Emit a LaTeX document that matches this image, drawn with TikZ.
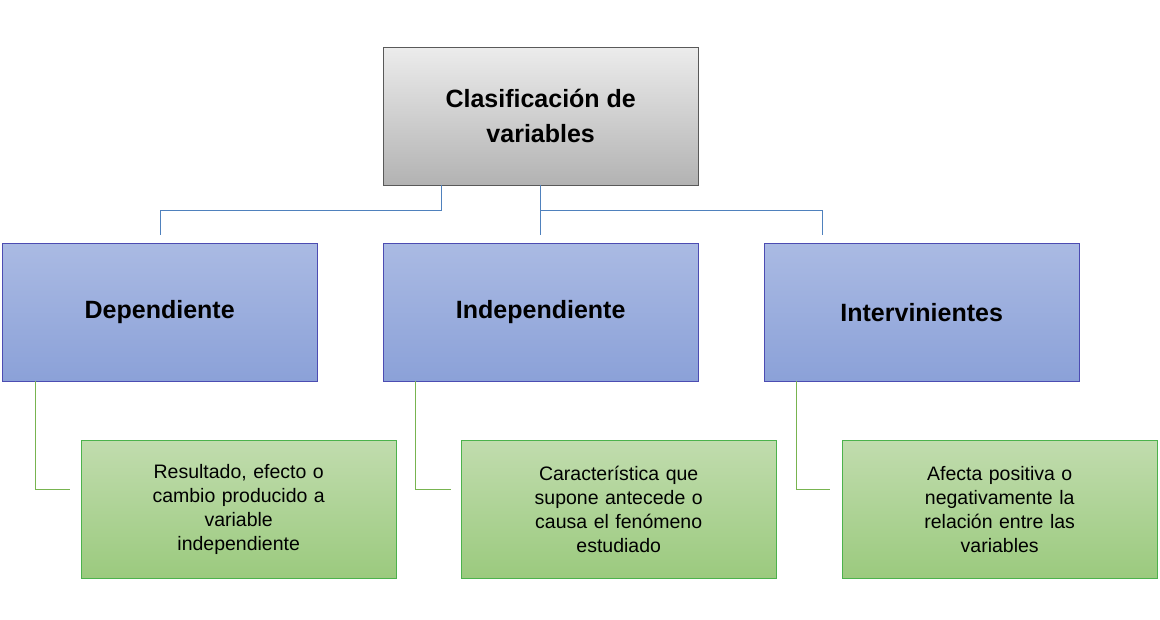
\documentclass[tikz,border=0pt]{standalone}
\usepackage{fontspec}
\setmainfont{Liberation Sans}
\begin{document}
\begin{tikzpicture}[x=1pt,y=-1pt,
 box/.style={draw, anchor=north west, inner sep=0pt, align=center, minimum width=315pt, minimum height=138pt},
 top/.style={box, draw=gray!70!black, top color=white!85!gray, bottom color=gray!60},
 mid/.style={box, draw=blue!40!gray, top color={rgb,255:red,170;green,186;blue,227}, bottom color={rgb,255:red,139;green,161;blue,216}, font=\fontsize{25}{30}\selectfont\bfseries},
 low/.style={box, draw=green!40!gray, top color={rgb,255:red,193;green,220;blue,174}, bottom color={rgb,255:red,155;green,202;blue,126}, font=\fontsize{19.5}{24}\selectfont, text width=290pt},
 bl/.style={draw={rgb,255:red,79;green,129;blue,189}, line width=0.8pt},
 gl/.style={draw={rgb,255:red,120;green,180;blue,80}, line width=0.8pt}]
\useasboundingbox (0,0) rectangle (1160,620);
\node[top, font=\fontsize{25}{35}\selectfont\bfseries] (t) at (383,47) {Clasificación de\\variables};
\node[mid] (d) at (2,243) {Dependiente};
\node[mid] (i) at (383,243) {Independiente};
\node[mid] (v) at (764,243) {Intervinientes};
\node[low] (d2) at (81,440) {Resultado, efecto o\\cambio producido a\\variable\\independiente};
\node[low] (i2) at (461,440) {Característica que\\supone antecede o\\causa el fenómeno\\estudiado};
\node[low] (v2) at (842,440) {Afecta positiva o\\negativamente la\\relación entre las\\variables};
\coordinate (ed) at (160,235);
\coordinate (ei) at (540,235);
\coordinate (ev) at (822,235);
\draw[bl] (t.south west) ++(58,0) -- ++(0,25) -| (ed);
\draw[bl] (t.south west) ++(157,0) -- (ei);
\draw[bl] (540,210) -| (ev);
\coordinate (gd) at (70,489);
\coordinate (gi) at (451,489);
\coordinate (gv) at (830,489);
\draw[gl] (d.south west) ++(33,0) |- (gd);
\draw[gl] (i.south west) ++(32,0) |- (gi);
\draw[gl] (v.south west) ++(32,0) |- (gv);
\end{tikzpicture}
\end{document}
